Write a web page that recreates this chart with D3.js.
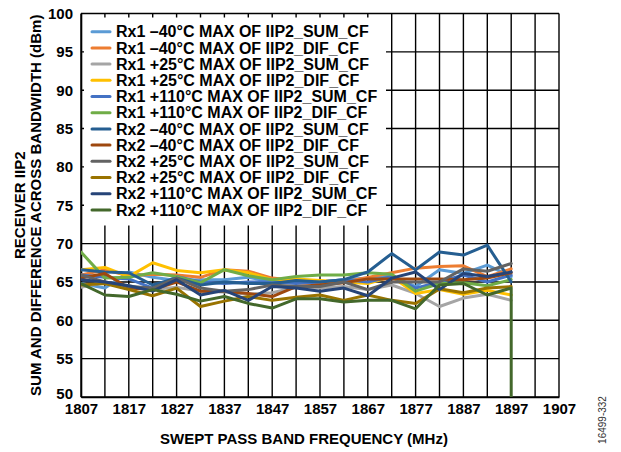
<!DOCTYPE html>
<html><head><meta charset="utf-8">
<script src="https://cdn.jsdelivr.net/npm/d3@7"></script>
<style>
html,body{margin:0;padding:0;background:#fff;}
svg text{font-family:"Liberation Sans",Arial,sans-serif;font-weight:bold;fill:#000;}
</style></head>
<body>
<svg id="chart" width="621" height="452"></svg>
<script>
const freqs = [1807,1812,1817,1822,1827,1832,1837,1842,1847,1852,1857,1862,1867,1872,1877,1882,1887,1892,1897];
const xTicks = [1807,1817,1827,1837,1847,1857,1867,1877,1887,1897,1907];
const yTicks = [50,55,60,65,70,75,80,85,90,95,100];
const seriesNames = [
  "Rx1 \u201340\u00b0C MAX OF IIP2_SUM_CF",
  "Rx1 \u201340\u00b0C MAX OF IIP2_DIF_CF",
  "Rx1 +25\u00b0C MAX OF IIP2_SUM_CF",
  "Rx1 +25\u00b0C MAX OF IIP2_DIF_CF",
  "Rx1 +110\u00b0C MAX OF IIP2_SUM_CF",
  "Rx1 +110\u00b0C MAX OF IIP2_DIF_CF",
  "Rx2 \u201340\u00b0C MAX OF IIP2_SUM_CF",
  "Rx2 \u201340\u00b0C MAX OF IIP2_DIF_CF",
  "Rx2 +25\u00b0C MAX OF IIP2_SUM_CF",
  "Rx2 +25\u00b0C MAX OF IIP2_DIF_CF",
  "Rx2 +110\u00b0C MAX OF IIP2_SUM_CF",
  "Rx2 +110\u00b0C MAX OF IIP2_DIF_CF"
];
const seriesColors = ["#5B9BD5","#ED7D31","#A5A5A5","#FFC000","#4472C4","#70AD47","#255E91","#9E480E","#636363","#997300","#264478","#43682B"];

const rx1_m40_sum = [64.8,64.2,66.3,65.6,65.2,65.3,65.3,65.6,65.0,65.1,65.0,65.3,65.5,65.8,64.4,66.6,66.1,67.2,65.7];
const rx1_m40_dif = [65.9,66.6,65.8,66.0,65.9,65.6,66.6,66.4,65.5,65.2,64.9,65.0,65.6,66.2,66.8,67.0,67.1,65.7,66.7];
const rx1_25_sum  = [64.3,65.0,64.5,64.0,64.3,63.8,63.7,63.4,63.6,64.3,64.2,64.4,64.0,64.6,63.5,61.8,62.9,63.4,62.6];
const rx1_25_dif  = [66.6,66.9,65.7,67.5,66.5,66.2,66.6,66.2,65.3,65.4,65.2,65.0,64.8,65.7,63.5,64.0,63.4,63.9,63.3];
const rx1_110_sum = [65.9,65.6,65.4,64.2,65.7,65.0,64.8,65.0,65.0,64.8,65.0,65.3,65.0,65.7,64.2,65.0,65.9,65.0,65.9];
const rx1_110_dif = [68.9,65.5,65.6,66.2,65.7,64.9,66.6,65.8,65.3,65.7,65.9,65.9,66.2,66.0,63.8,64.8,64.9,64.5,65.3];
const rx2_m40_sum = [66.6,66.3,66.2,64.6,65.5,64.6,65.0,64.8,64.8,65.2,65.0,65.3,66.3,68.7,66.6,68.9,68.5,69.8,65.0];
const rx2_m40_dif = [65.5,66.1,64.2,64.0,65.0,63.8,63.8,63.5,63.1,64.4,64.6,64.9,65.4,65.4,65.4,65.4,65.3,65.5,66.2];
const rx2_25_sum  = [65.9,65.0,64.4,64.2,65.5,64.2,63.8,64.0,64.6,64.4,64.4,65.0,64.0,65.0,65.0,65.0,66.7,66.4,67.4];
const rx2_25_dif  = [64.6,64.8,64.0,63.2,64.2,61.8,62.5,63.1,62.6,63.0,63.3,62.6,63.3,62.6,62.2,64.1,63.6,64.2,64.4];
const rx2_110_sum = [65.3,65.0,64.5,63.8,65.3,63.3,63.9,62.6,64.4,64.2,63.8,64.2,63.2,65.5,66.3,64.0,66.1,65.7,66.3];
const rx2_110_dif = [64.8,63.3,63.1,64.0,63.4,62.5,63.1,62.2,61.6,62.8,62.8,62.4,62.6,62.6,61.5,64.6,64.8,63.3,64.2,50];
const rx2_110_dif_freqs = freqs.concat([1897]);

const allValues = [rx1_m40_sum,rx1_m40_dif,rx1_25_sum,rx1_25_dif,rx1_110_sum,rx1_110_dif,
                   rx2_m40_sum,rx2_m40_dif,rx2_25_sum,rx2_25_dif,rx2_110_sum,rx2_110_dif];
const allFreqs = allValues.map((v,i)=> i===11 ? rx2_110_dif_freqs : freqs);

const svg = d3.select("#chart");
const L = 81, R = 559, T = 13.5, B = 397;
const x = d3.scaleLinear().domain([1807,1907]).range([L,R]);
const y = d3.scaleLinear().domain([50,100]).range([B,T]);

// grid
const gridX = d3.range(1807,1908,5);
svg.append("g").selectAll("line").data(gridX).join("line")
  .attr("x1",d=>x(d)).attr("x2",d=>x(d)).attr("y1",T).attr("y2",B)
  .attr("stroke","#000").attr("stroke-width",1.4);
svg.append("g").selectAll("line").data(yTicks).join("line")
  .attr("x1",L).attr("x2",R).attr("y1",d=>y(d)).attr("y2",d=>y(d))
  .attr("stroke","#000").attr("stroke-width",1.4);

// axes labels
const yAxis = d3.axisLeft(y).tickValues(yTicks).tickSize(0).tickPadding(8);
const gy = svg.append("g").attr("transform",`translate(${L},0)`).call(yAxis);
gy.select(".domain").attr("stroke","#000").attr("stroke-width",1.6);
gy.selectAll("text").attr("font-size",15).attr("font-family","Liberation Sans, Arial, sans-serif").attr("font-weight","bold").attr("fill","#000")
  .attr("dy", d => d===50 ? "0.1em" : "0.32em");
const xAxis = d3.axisBottom(x).tickValues(xTicks).tickSize(0).tickPadding(6).tickFormat(d3.format("d"));
const gx = svg.append("g").attr("transform",`translate(0,${B})`).call(xAxis);
gx.select(".domain").attr("stroke","#000").attr("stroke-width",1.6);
gx.selectAll("text").attr("font-size",15).attr("font-family","Liberation Sans, Arial, sans-serif").attr("font-weight","bold").attr("fill","#000");

// clip
svg.append("clipPath").attr("id","plotclip").append("rect")
  .attr("x",L).attr("y",T).attr("width",R-L).attr("height",B-T);

const line = d3.line().x(d=>x(d[0])).y(d=>y(d[1]));
const gl = svg.append("g").attr("clip-path","url(#plotclip)");
allValues.forEach((vals,i)=>{
  const pts = vals.map((v,j)=>[allFreqs[i][j],v]);
  gl.append("path").datum(pts).attr("d",line)
    .attr("fill","none").attr("stroke",seriesColors[i]).attr("stroke-width",3)
    .attr("stroke-linejoin","round").attr("stroke-linecap","round");
});

// legend
const lg = svg.append("g");
lg.append("rect").attr("x",84).attr("y",17.5).attr("width",302).attr("height",208).attr("fill","#fff");
seriesNames.forEach((n,i)=>{
  const cy = 31.7 + i*16.2;
  lg.append("line").attr("x1",92).attr("x2",110).attr("y1",cy).attr("y2",cy)
    .attr("stroke",seriesColors[i]).attr("stroke-width",3).attr("stroke-linecap","round");
  lg.append("text").attr("x",116).attr("y",cy).attr("dy","0.36em").attr("font-size",16).text(n);
});

// titles
svg.append("text").attr("x",304).attr("y",444).attr("text-anchor","middle").attr("font-size",15).text("SWEPT PASS BAND FREQUENCY (MHz)");
svg.append("text").attr("transform",`translate(25,${(T+B)/2}) rotate(-90)`).attr("text-anchor","middle").attr("font-size",15).text("RECEIVER IIP2");
svg.append("text").attr("transform",`translate(41,${(T+B)/2}) rotate(-90)`).attr("text-anchor","middle").attr("font-size",15).text("SUM AND DIFFERENCE ACROSS BANDWIDTH (dBm)");
svg.append("text").attr("transform",`translate(606,420) rotate(-90)`).attr("text-anchor","middle")
  .attr("font-size",10).style("font-weight","normal").style("fill","#333").text("16499-332");
</script>
</body></html>
